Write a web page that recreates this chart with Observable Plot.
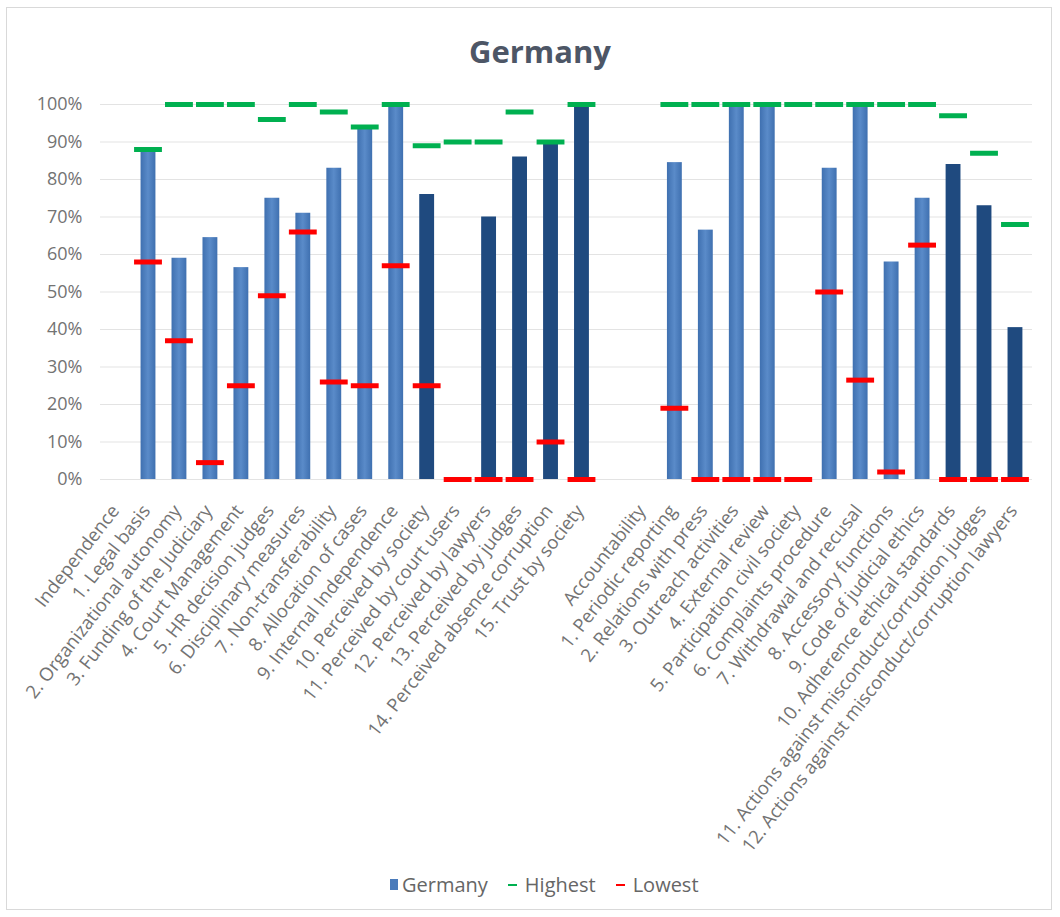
<!DOCTYPE html>
<html>
<head>
<meta charset="utf-8">
<script src="https://cdn.jsdelivr.net/npm/d3@7"></script>
<script src="https://cdn.jsdelivr.net/npm/@observablehq/plot@0.6"></script>
<style>
  body { margin: 0; background: #fff; font-family: "Open Sans", sans-serif; }
  #frame { position: absolute; left: 6px; top: 7px; width: 1046px; height: 903px; border: 1px solid #d9d9d9; box-sizing: border-box; }
  #title { position: absolute; top: 30px; left: 10px; width: 1060px; text-align: center; font-size: 31px; font-weight: bold; color: #4d5666; }
  #chart { position: absolute; top: 80px; left: 0; }
  #legend { position: absolute; top: 871px; left: 390px; display: flex; align-items: center; font-size: 20px; color: #666; white-space: nowrap; }
  #legend .item { display: flex; align-items: center; margin-right: 20px; }
  #legend .sq { width: 8px; height: 11px; background: #4a7bbb; margin-right: 4px; }
  #legend .dash { width: 9px; height: 2px; margin-right: 8px; }
</style>
</head>
<body>
<div id="frame"></div>
<div id="title">Germany</div>
<div id="chart"></div>
<div id="legend">
  <div class="item"><span class="sq"></span>Germany</div>
  <div class="item"><span class="dash" style="background:#00b050"></span>Highest</div>
  <div class="item"><span class="dash" style="background:#ff0000"></span>Lowest</div>
</div>
<script>
// ---- Data (percent) ----
const independenceItems = [
  "Independence", "1. Legal basis", "2. Organizational autonomy", "3. Funding of the Judiciary",
  "4. Court Management", "5. HR decision judges", "6. Disciplinary measures", "7. Non-transferability",
  "8. Allocation of cases", "9. Internal Independence", "10. Perceived by society",
  "11. Perceived by court users", "12. Perceived by lawyers", "13. Perceived by judges",
  "14. Perceived absence corruption", "15. Trust by society"
];
const independenceGermany = [null, 88, 59, 64.5, 56.5, 75, 71, 83, 93.5, 100, 76, null, 70, 86, 89.5, 100];
const independenceHighest = [null, 88, 100, 100, 100, 96, 100, 98, 94, 100, 89, 90, 90, 98, 90, 100];
const independenceLowest  = [null, 58, 37, 4.5, 25, 49, 66, 26, 25, 57, 25, 0, 0, 0, 10, 0];
const independenceSource  = [null, "structural", "structural", "structural", "structural", "structural",
  "structural", "structural", "structural", "structural", "perception", "perception", "perception",
  "perception", "perception", "perception"];

const separatorItems = [" "];

const accountabilityItems = [
  "Accountability", "1. Periodic reporting", "2. Relations with press", "3. Outreach activities",
  "4. External review", "5. Participation civil society", "6. Complaints procedure",
  "7. Withdrawal and recusal", "8. Accessory functions", "9. Code of judicial ethics",
  "10. Adherence ethical standards", "11. Actions against misconduct/corruption judges",
  "12. Actions against misconduct/corruption lawyers"
];
const accountabilityGermany = [null, 84.5, 66.5, 100, 100, null, 83, 100, 58, 75, 84, 73, 40.5];
const accountabilityHighest = [null, 100, 100, 100, 100, 100, 100, 100, 100, 100, 97, 87, 68];
const accountabilityLowest  = [null, 19, 0, 0, 0, 0, 50, 26.5, 2, 62.5, 0, 0, 0];
const accountabilitySource  = [null, "structural", "structural", "structural", "structural", "structural",
  "structural", "structural", "structural", "structural", "perception", "perception", "perception"];

const yTicks = [0, 10, 20, 30, 40, 50, 60, 70, 80, 90, 100];

// ---- Build table ----
const rows = [];
independenceItems.forEach((item, i) => rows.push({item, germany: independenceGermany[i], highest: independenceHighest[i], lowest: independenceLowest[i], source: independenceSource[i]}));
separatorItems.forEach(item => rows.push({item, germany: null, highest: null, lowest: null, source: null}));
accountabilityItems.forEach((item, i) => rows.push({item, germany: accountabilityGermany[i], highest: accountabilityHighest[i], lowest: accountabilityLowest[i], source: accountabilitySource[i]}));
const domain = rows.map(d => d.item);

const chart = Plot.plot({
  width: 1060,
  height: 780,
  marginTop: 24,
  marginBottom: 381,
  marginLeft: 100,
  marginRight: 28,
  style: { fontFamily: "'Open Sans', sans-serif", fontSize: "18px", color: "#737373", background: "transparent" },
  x: { domain, padding: 0.1, round: false, label: null, axis: null },
  y: { domain: [0, 100], ticks: yTicks, tickFormat: d => d + "%", label: null, tickSize: 0, tickPadding: 18 },
  marks: [
    Plot.ruleY(yTicks, { stroke: "#e3e3e3", strokeWidth: 1 }),
    Plot.axisX({ tickSize: 0, tickRotate: -52, tickPadding: 28, dx: -2, fontSize: 18.5, label: null }),
    Plot.barY(rows.filter(d => d.germany != null && d.source === "structural"), { x: "item", y: "germany", fill: "url(#lightBar)", insetLeft: 6.5, insetRight: 6.5 }),
    Plot.barY(rows.filter(d => d.germany != null && d.source === "perception"), { x: "item", y: "germany", fill: "#1f4a7f", insetLeft: 6.5, insetRight: 6.5 }),
    Plot.tickY(rows.filter(d => d.highest != null), { x: "item", y: "highest", stroke: "#00b050", strokeWidth: 5 }),
    Plot.tickY(rows.filter(d => d.lowest != null), { x: "item", y: "lowest", stroke: "#ff0000", strokeWidth: 5 })
  ]
});

const ns = "http://www.w3.org/2000/svg";
const defs = document.createElementNS(ns, "defs");
defs.innerHTML = `<linearGradient id="lightBar" x1="0" x2="1" y1="0" y2="0">
  <stop offset="0" stop-color="#3f70b0"/><stop offset="0.5" stop-color="#5a8bc9"/><stop offset="1" stop-color="#3f70b0"/>
</linearGradient>`;
chart.insertBefore(defs, chart.firstChild);
document.getElementById("chart").appendChild(chart);
</script>
</body>
</html>
